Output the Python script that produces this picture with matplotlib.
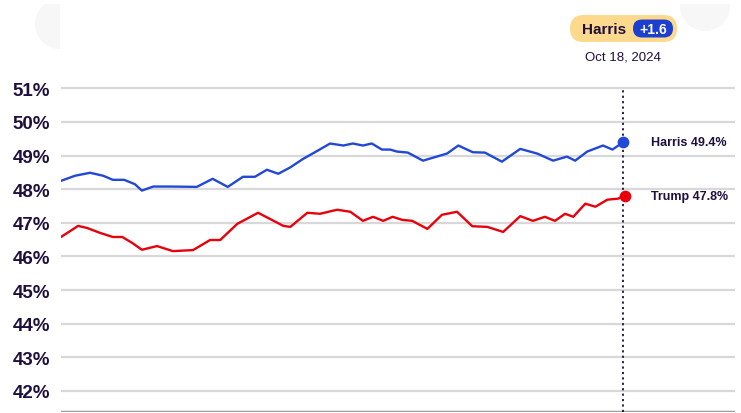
import matplotlib.pyplot as plt
import matplotlib.patches as mpatches

plt.rcParams['font.family'] = ['Liberation Sans', 'DejaVu Sans']

# days since Jul 21, 2024 (last point = Oct 18, 2024)
harris_days = [0, 2.2, 4.6, 6.7, 8.2, 10, 11.7, 12.8, 14.6, 17.3, 21.5, 24, 26.4, 28.8,
               30.7, 32.6, 34.4, 36.3, 38.3, 40.2, 42.6, 44.7, 46.2, 47.8, 49.2, 50.8,
               52.1, 53.2, 54.9, 57.3, 61.1, 62.9, 65.2, 67.1, 69.8, 72.7, 75.4, 77.9,
               80.1, 81.4, 83.3, 85.8, 87.3, 89]
harris = [48.25, 48.40, 48.49, 48.40, 48.28, 48.28, 48.15, 47.96, 48.08, 48.08, 48.07,
          48.31, 48.07, 48.37, 48.37, 48.58, 48.46, 48.65, 48.90, 49.10, 49.36, 49.30,
          49.36, 49.30, 49.36, 49.18, 49.18, 49.12, 49.09, 48.85, 49.06, 49.30, 49.10,
          49.09, 48.82, 49.20, 49.06, 48.85, 48.97, 48.85, 49.12, 49.30, 49.18, 49.40]

trump_days = [0, 1.4, 2.7, 4.1, 6.2, 8.2, 9.7, 11.3, 12.8, 15.2, 17.7, 20.9, 23.6, 25.2,
              27.9, 31.2, 35.2, 36.3, 39, 41, 43.7, 45.8, 47.8, 49.4, 51, 52.5, 54, 55.6,
              58, 60.3, 62.7, 65.1, 67.5, 70, 72.7, 74.7, 76.6, 78.2, 79.8, 81.1, 83,
              84.6, 86.5, 88.2, 89]
trump = [46.58, 46.75, 46.91, 46.85, 46.70, 46.58, 46.58, 46.40, 46.20, 46.31, 46.16,
         46.19, 46.49, 46.49, 46.97, 47.30, 46.91, 46.88, 47.30, 47.27, 47.39, 47.33,
         47.06, 47.18, 47.06, 47.18, 47.09, 47.06, 46.82, 47.24, 47.33, 46.90, 46.88,
         46.73, 47.20, 47.06, 47.18, 47.06, 47.27, 47.18, 47.57, 47.48, 47.69, 47.72, 47.80]

yticks = [42, 43, 44, 45, 46, 47, 48, 49, 50, 51]
last_day = 89
harris_label = "Harris 49.4%"
trump_label = "Trump 47.8%"
date_label = "Oct 18, 2024"
lead_name = "Harris"
lead_value = "+1.6"

ink = "#1e0f3c"
blue = "#2148d6"
red = "#e8000b"

fig = plt.figure(figsize=(7.41, 4.14), dpi=100)

# faint background decoration, pixel coords
bg = fig.add_axes([0, 0, 1, 1], zorder=0)
bg.set_xlim(0, 741)
bg.set_ylim(414, 0)
bg.axis('off')
c1 = bg.add_patch(mpatches.Circle((60, 25), 25, color="#f7f7f7", lw=0))
c1.set_clip_path(bg.add_patch(mpatches.Rectangle((0, 5), 60, 100, fc='none', ec='none')))
c2 = bg.add_patch(mpatches.Circle((705, 7), 25, color="#f7f7f7", lw=0))
c2.set_clip_path(bg.add_patch(mpatches.Rectangle((600, 5), 141, 100, fc='none', ec='none')))

ax = fig.add_axes([61 / 741, 1 / 414, 674 / 741, 327 / 414], zorder=1)
ax.patch.set_alpha(0)
ax.set_xlim(0, 106.7)
ax.set_ylim(41.375, 51.1)

for v in yticks:
    ax.axhline(v, color="#d8d8d8", lw=1.6, zorder=1)
ax.axhline(41.375, color="#a0a0a0", lw=2.5, zorder=1)

ax.vlines(last_day, 41.375, 51, colors=ink, linestyles=(0, (1.2, 1.8)), lw=1.3, zorder=2)

ax.plot(harris_days, harris, color=blue, lw=1.7, zorder=3,
        solid_capstyle='round', solid_joinstyle='round')
ax.plot(trump_days, trump, color=red, lw=1.7, zorder=3,
        solid_capstyle='round', solid_joinstyle='round')
ax.scatter([last_day], [harris[-1]], s=55, color=blue, zorder=4)
ax.scatter([last_day + 0.3], [trump[-1]], s=55, color=red, zorder=4)

ax.annotate(harris_label, (last_day, harris[-1]), xytext=(20, 0), textcoords='offset points',
            ha='left', va='center', fontsize=9, fontweight='bold', color=ink)
ax.annotate(trump_label, (last_day, trump[-1]), xytext=(20, 0), textcoords='offset points',
            ha='left', va='center', fontsize=9, fontweight='bold', color=ink)

ax.set_yticks(yticks)
ax.set_yticklabels([f"{v}%" for v in yticks])
ax.tick_params(axis='y', length=0, pad=8, labelsize=13.5, labelcolor=ink)
for t in ax.get_yticklabels():
    t.set_fontweight('bold')
ax.set_xticks([])
for s in ax.spines.values():
    s.set_visible(False)

# lead badge
top = fig.add_axes([0, 0, 1, 1], zorder=2)
top.set_xlim(0, 741)
top.set_ylim(414, 0)
top.axis('off')
top.add_patch(mpatches.FancyBboxPatch((570, 16), 107, 27,
              boxstyle="round,pad=0,rounding_size=13.5", fc="#fcd98c", ec="none"))
top.add_patch(mpatches.FancyBboxPatch((633, 20.5), 40, 18,
              boxstyle="round,pad=0,rounding_size=9", fc="#1c3fd0", ec="none"))
top.text(604, 29.5, lead_name, ha='center', va='center', fontsize=11,
         fontweight='bold', color=ink)
top.text(653, 29.5, lead_value, ha='center', va='center', fontsize=10,
         fontweight='bold', color='white')
top.text(623, 58, date_label, ha='center', va='center', fontsize=9.5, color=ink)

fig.savefig("out.png", dpi=100)
